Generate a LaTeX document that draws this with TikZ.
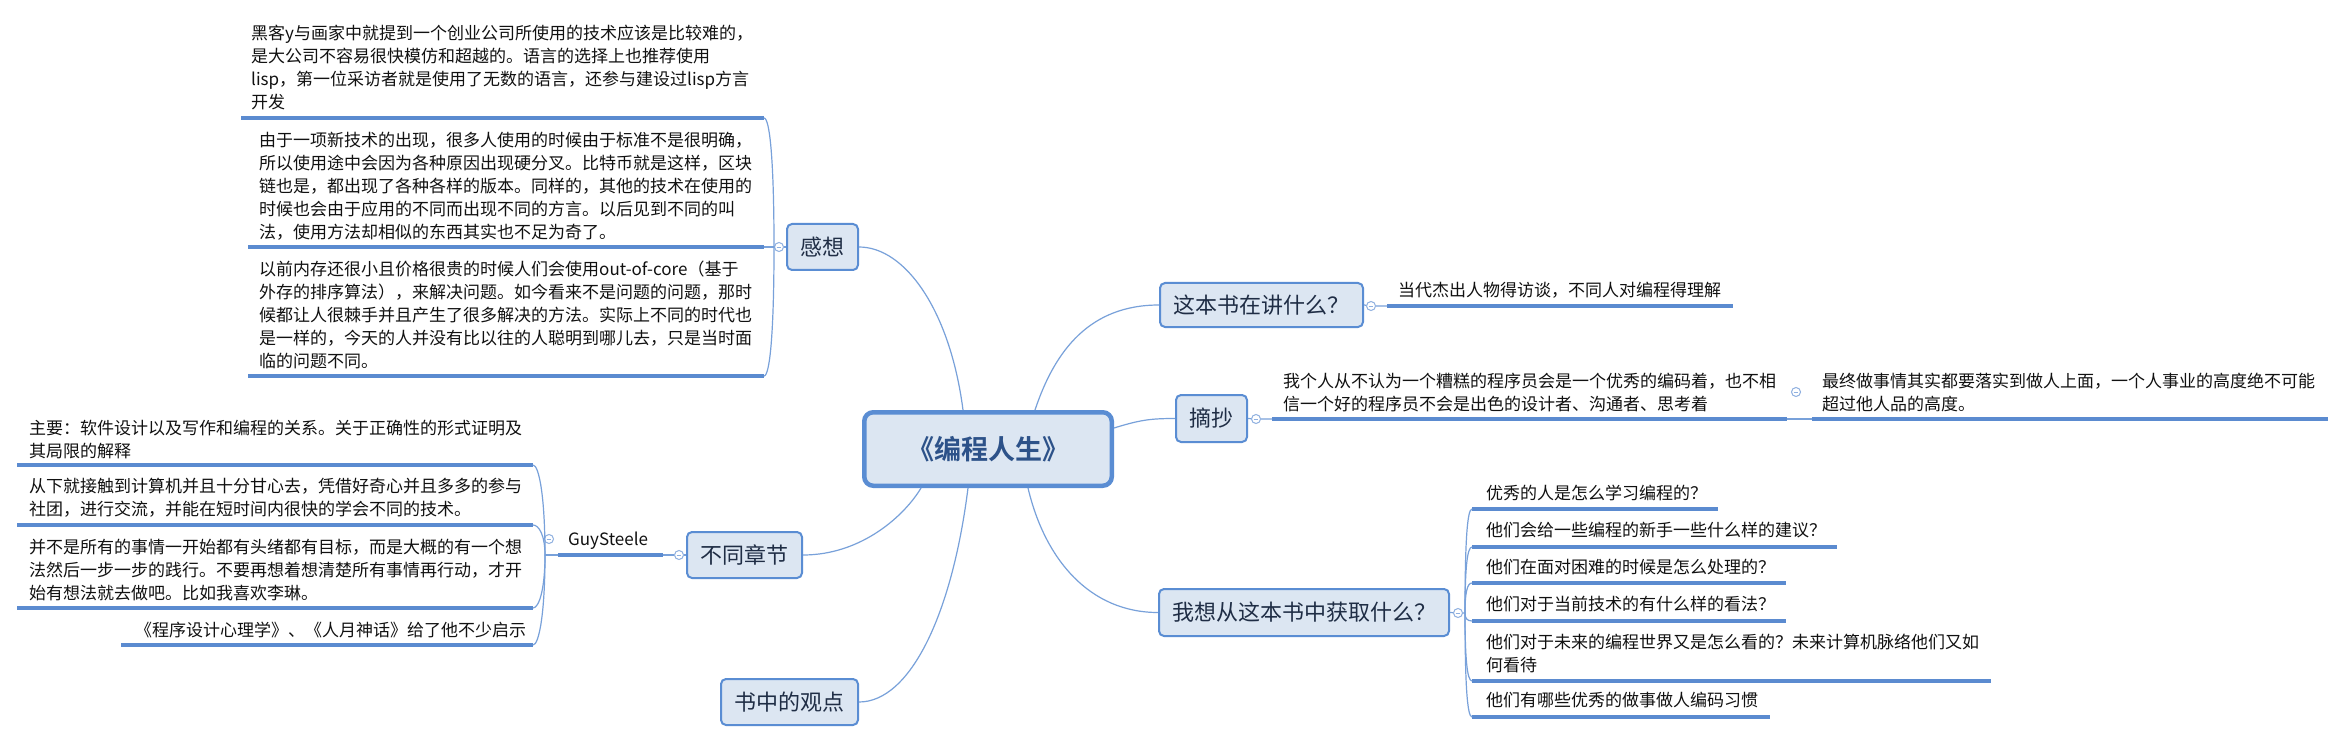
\documentclass[tikz,border=0pt]{standalone}
\usepackage{fontspec}
\setmainfont{Noto Sans CJK SC}[BoldFont={Noto Sans CJK SC Bold}]
\usetikzlibrary{calc}
\definecolor{boxfill}{HTML}{DCE6F2}
\definecolor{boxline}{HTML}{5A8DD3}
\definecolor{connc}{HTML}{78A1DA}
\definecolor{ulc}{HTML}{5B8BD0}
\definecolor{circc}{HTML}{8FB0E0}
\definecolor{topictext}{HTML}{1F2D45}
\definecolor{titletext}{HTML}{2D5289}
\definecolor{leaftext}{HTML}{111111}
\newcommand{\lst}{\rule{0pt}{18pt}}
\tikzset{
  leaf/.style={font=\fontsize{17}{23}\selectfont, align=left, inner sep=0pt, anchor=north west, text=leaftext},
  topic/.style={draw=boxline, fill=boxfill, line width=2pt, rounded corners=5pt, inner sep=0pt, font=\fontsize{22}{26}\selectfont, text=topictext},
  central/.style={draw=boxline, fill=boxfill, line width=4.5pt, rounded corners=9pt, inner sep=0pt, font=\fontsize{27}{32}\selectfont\bfseries, text=titletext},
  linkline/.style={draw=connc, line width=1.2pt},
  uline/.style={draw=ulc, line width=3.5pt},
  collapse/.style={circle, draw=circc, fill=white, line width=1pt, minimum size=9pt, inner sep=0pt,
    path picture={\draw[circc, line width=0.9pt] ([xshift=-2.3pt]path picture bounding box.center) -- ([xshift=2.3pt]path picture bounding box.center);}},
}
\begin{document}
\begin{tikzpicture}[x=1pt,y=-1pt]
\useasboundingbox (0,0) rectangle (2345,743);
\fill[white] (0,0) rectangle (2345,743);

% ---------- topic boxes ----------
\node[central, minimum width=247.5pt, minimum height=73.5pt] (cen) at (988,449) {《编程人生》};
\node[topic, minimum width=71pt, minimum height=46pt] (gan) at (822.5,247) {感想};
\node[topic, minimum width=203pt, minimum height=44pt] (zb) at (1261.5,305) {这本书在讲什么？};
\node[topic, minimum width=71pt, minimum height=47pt] (zc) at (1211.5,418.5) {摘抄};
\node[topic, minimum width=290pt, minimum height=47pt] (wx) at (1304,612.5) {我想从这本书中获取什么？};
\node[topic, minimum width=115pt, minimum height=46pt] (bt) at (744.5,555) {不同章节};
\node[topic, minimum width=137pt, minimum height=46pt] (sz) at (789.5,702) {书中的观点};

% ---------- collapse markers ----------
\node[collapse] (ganc) at (779,247) {};
\node[collapse] (zbc) at (1371,306) {};
\node[collapse] (zcc) at (1256,419) {};
\node[collapse] (zcc2) at (1796,392) {};
\node[collapse] (wxc) at (1458,613) {};
\node[collapse] (btc) at (679,555) {};
\node[collapse] (gsc) at (549,539) {};

% ---------- central connectors ----------
\coordinate (T1) at ($(cen.north west)+(101,0)$);
\coordinate (T2) at ($(cen.north west)+(173,0)$);
\coordinate (B1) at ($(cen.south west)+(59,0)$);
\coordinate (B2) at ($(cen.south west)+(106,0)$);
\coordinate (B3) at ($(cen.south west)+(166,0)$);
\coordinate (R1) at ($(cen.north east)+(0,18)$);
\draw[linkline] (T1) .. controls (950,310) and (905,247) .. (gan.east);
\draw[linkline] (T2) .. controls (1055,350) and (1090,305) .. (zb.west);
\draw[linkline] (R1) .. controls (1140,420) and (1150,418.5) .. (zc.west);
\draw[linkline] (B1) .. controls (905,515) and (862,555) .. (bt.east);
\draw[linkline] (B2) .. controls (952,615) and (910,702) .. (sz.east);
\draw[linkline] (B3) .. controls (1045,560) and (1090,612.5) .. (wx.west);

% ---------- 感想 group ----------
\coordinate (gJ) at (774,247);
\coordinate (g1L) at (241,118); \coordinate (g1R) at (764,118);
\coordinate (g2L) at (248,247); \coordinate (g2R) at (764,247);
\coordinate (g3L) at (248,376); \coordinate (g3R) at (764,376);
\node[leaf] (g1) at (251,21.5) {\lst 黑客y与画家中就提到一个创业公司所使用的技术应该是比较难的，\\是大公司不容易很快模仿和超越的。语言的选择上也推荐使用\\lisp，第一位采访者就是使用了无数的语言，还参与建设过lisp方言\\开发};
\node[leaf] (g2) at (259,128.5) {\lst 由于一项新技术的出现，很多人使用的时候由于标准不是很明确，\\所以使用途中会因为各种原因出现硬分叉。比特币就是这样，区块\\链也是，都出现了各种各样的版本。同样的，其他的技术在使用的\\时候也会由于应用的不同而出现不同的方言。以后见到不同的叫\\法，使用方法却相似的东西其实也不足为奇了。};
\node[leaf] (g3) at (259,257.5) {\lst 以前内存还很小且价格很贵的时候人们会使用out-of-core（基于\\外存的排序算法），来解决问题。如今看来不是问题的问题，那时\\候都让人很棘手并且产生了很多解决的方法。实际上不同的时代也\\是一样的，今天的人并没有比以往的人聪明到哪儿去，只是当时面\\临的问题不同。};
\draw[uline] (g1L) -- (g1R);
\draw[uline] (g2L) -- (g2R);
\draw[uline] (g3L) -- (g3R);
\draw[linkline] (gan.west) -- (ganc) -- (g2R);
\draw[linkline] (gJ) .. controls ($(gJ)!0.65!(gJ|-g1R)$) and ($(g1R)+(6,0)$) .. (g1R);
\draw[linkline] (gJ) .. controls ($(gJ)!0.65!(gJ|-g3R)$) and ($(g3R)+(6,0)$) .. (g3R);

% ---------- 不同章节 group ----------
\coordinate (bJ) at (545,555);
\coordinate (gsL) at (558,555); \coordinate (gsR) at (663,555);
\coordinate (b1L) at (17,465);  \coordinate (b1R) at (533,465);
\coordinate (b2L) at (17,525);  \coordinate (b2R) at (533,525);
\coordinate (b3L) at (17,608);  \coordinate (b3R) at (533,608);
\coordinate (b4L) at (121,645); \coordinate (b4R) at (533,645);
\node[leaf] (gs) at (568,527.5) {\lst GuySteele};
\node[leaf] (b1) at (29,416.5) {\lst 主要：软件设计以及写作和编程的关系。关于正确性的形式证明及\\其局限的解释};
\node[leaf] (b2) at (29,474.5) {\lst 从下就接触到计算机并且十分甘心去，凭借好奇心并且多多的参与\\社团，进行交流，并能在短时间内很快的学会不同的技术。};
\node[leaf] (b3) at (29,535.5) {\lst 并不是所有的事情一开始都有头绪都有目标，而是大概的有一个想\\法然后一步一步的践行。不要再想着想清楚所有事情再行动，才开\\始有想法就去做吧。比如我喜欢李琳。};
\node[leaf] (b4) at (135,618.5) {\lst 《程序设计心理学》、《人月神话》给了他不少启示};
\draw[uline] (gsL) -- (gsR);
\draw[uline] (b1L) -- (b1R);
\draw[uline] (b2L) -- (b2R);
\draw[uline] (b3L) -- (b3R);
\draw[uline] (b4L) -- (b4R);
\draw[linkline] (bt.west) -- (btc) -- (gsR);
\draw[linkline] (bJ) -- (gsL);
\draw[linkline] (bJ) .. controls ($(bJ)!0.65!(bJ|-b1R)$) and ($(b1R)+(6,0)$) .. (b1R);
\draw[linkline] (bJ) .. controls ($(bJ)!0.65!(bJ|-b2R)$) and ($(b2R)+(6,0)$) .. (b2R);
\draw[linkline] (bJ) .. controls ($(bJ)!0.65!(bJ|-b3R)$) and ($(b3R)+(6,0)$) .. (b3R);
\draw[linkline] (bJ) .. controls ($(bJ)!0.65!(bJ|-b4R)$) and ($(b4R)+(6,0)$) .. (b4R);

% ---------- 这本书在讲什么 group ----------
\coordinate (t1L) at (1387,306); \coordinate (t1R) at (1733,306);
\node[leaf] (t1) at (1398,278.5) {\lst 当代杰出人物得访谈，不同人对编程得理解};
\draw[uline] (t1L) -- (t1R);
\draw[linkline] (zb.east) -- (zbc) -- (t1L);

% ---------- 摘抄 group ----------
\coordinate (z1L) at (1272,419); \coordinate (z1R) at (1787,419);
\coordinate (z2L) at (1812,419); \coordinate (z2R) at (2328,419);
\node[leaf] (z1) at (1283,369.5) {\lst 我个人从不认为一个糟糕的程序员会是一个优秀的编码着，也不相\\信一个好的程序员不会是出色的设计者、沟通者、思考着};
\node[leaf] (z2) at (1822,369.5) {\lst 最终做事情其实都要落实到做人上面，一个人事业的高度绝不可能\\超过他人品的高度。};
\draw[uline] (z1L) -- (z1R);
\draw[uline] (z2L) -- (z2R);
\draw[linkline] (zc.east) -- (zcc) -- (z1L);
\draw[linkline] (z1R) -- (z2L);

% ---------- 我想从这本书中获取什么 group ----------
\coordinate (wJ) at (1465,613);
\coordinate (w1L) at (1472,509); \coordinate (w1R) at (1718,509);
\coordinate (w2L) at (1472,547); \coordinate (w2R) at (1837,547);
\coordinate (w3L) at (1472,583); \coordinate (w3R) at (1786,583);
\coordinate (w4L) at (1472,621); \coordinate (w4R) at (1786,621);
\coordinate (w5L) at (1472,681); \coordinate (w5R) at (1991,681);
\coordinate (w6L) at (1472,717); \coordinate (w6R) at (1770,717);
\node[leaf] (w1) at (1486,481.5) {\lst 优秀的人是怎么学习编程的？};
\node[leaf] (w2) at (1486,518.5) {\lst 他们会给一些编程的新手一些什么样的建议？};
\node[leaf] (w3) at (1486,555.5) {\lst 他们在面对困难的时候是怎么处理的？};
\node[leaf] (w4) at (1486,592.5) {\lst 他们对于当前技术的有什么样的看法？};
\node[leaf] (w5) at (1486,630.5) {\lst 他们对于未来的编程世界又是怎么看的？未来计算机脉络他们又如\\何看待};
\node[leaf] (w6) at (1486,688.5) {\lst 他们有哪些优秀的做事做人编码习惯};
\foreach \i in {1,...,6} {\draw[uline] (w\i L) -- (w\i R);}
\draw[linkline] (wx.east) -- (wxc) -- (wJ);
\foreach \i in {1,...,6} {
  \draw[linkline] (wJ) .. controls ($(wJ)!0.65!(wJ|-w\i L)$) and ($(w\i L)+(-5,0)$) .. (w\i L);
}
\end{tikzpicture}
\end{document}
